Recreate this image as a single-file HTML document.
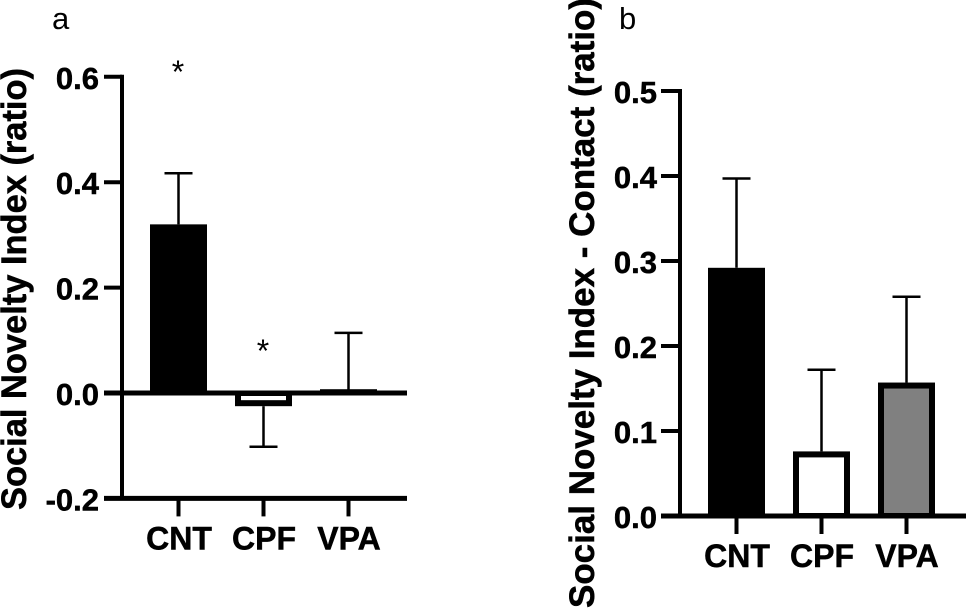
<!DOCTYPE html>
<html lang="en">
<head>
<meta charset="utf-8">
<title>Social Novelty Index bar charts</title>
<style>
html,body{margin:0;padding:0;background:#fff;}
svg{display:block;}
text{font-family:"Liberation Sans",Arial,sans-serif;fill:#000;}
.bold{font-weight:bold;font-size:31px;stroke:#000;stroke-width:0.5px;}
.cat{font-size:32px;}
.title{font-size:35px;}
.panel{font-size:31px;}
.star{font-size:32px;}
</style>
</head>
<body>
<svg id="chart" xmlns="http://www.w3.org/2000/svg" width="966" height="610" viewBox="0 0 966 610">
  <rect width="966" height="610" fill="#fff"/>
  <g id="panel-a"></g>
  <g id="panel-b"></g>
  <text class="panel" x="52" y="29">a</text>
  <text class="panel" x="619" y="29">b</text>
  <text class="bold title" transform="translate(26 510) rotate(-90)" textLength="442" lengthAdjust="spacingAndGlyphs">Social Novelty Index (ratio)</text>
  <text class="bold title" transform="translate(594 608) rotate(-90)" textLength="610" lengthAdjust="spacingAndGlyphs">Social Novelty Index - Contact (ratio)</text>
  <text class="star" x="178" y="83" text-anchor="middle">*</text>
  <text class="star" x="263" y="362" text-anchor="middle">*</text>
</svg>
<script>
const categories = ['CNT', 'CPF', 'VPA'];
const barFills = ['#000000', '#ffffff', '#808080'];
const valuesA = [0.32, -0.025, 0.003];
const errorsA = [0.097, 0.077, 0.111];
const ticksA = [0.6, 0.4, 0.2, 0.0, -0.2];
const valuesB = [0.292, 0.076, 0.157];
const errorsB = [0.105, 0.096, 0.101];
const ticksB = [0.5, 0.4, 0.3, 0.2, 0.1, 0.0];

const NS = 'http://www.w3.org/2000/svg';

function add(parent, tag, attrs, name) {
  const el = document.createElementNS(NS, tag);
  for (const k in attrs) el.setAttribute(k, attrs[k]);
  
  
  parent.appendChild(el);
  return el;
}

function line(parent, x1, y1, x2, y2, w, name) {
  return add(parent, 'line', {x1, y1, x2, y2, stroke: '#000', 'stroke-width': w}, name);
}

function drawPanel(cfg) {
  const g = document.getElementById(cfg.id);
  const y = v => cfg.y0 - v * cfg.pxPerUnit;
  const x = i => cfg.xFirst + i * cfg.xStep;
  const barW = 57, inset = 6, capHalf = 14;

  cfg.ticks.forEach(t => {
    const ty = y(t);
    const last = t === cfg.ticks[cfg.ticks.length - 1];
    const isBase = t === 0 || last;
    line(g, cfg.tickLeft, ty, isBase ? cfg.xEnd : cfg.axisX, ty, isBase ? 5 : 4, isBase ? (last ? 'x-axis-line' : 'zero-line') : 'y-tick');
    const label = add(g, 'text', {x: cfg.labelRight, y: ty + 12, 'text-anchor': 'end', class: 'bold'}, 'y-tick-label');
    label.textContent = t.toFixed(1);
  });

  const axisBottom = y(cfg.ticks[cfg.ticks.length - 1]);
  const axisTop = y(cfg.ticks[0]);
  line(g, cfg.axisX, axisTop - 2, cfg.axisX, axisBottom + 2, 4, 'y-axis-line');

  cfg.values.forEach((v, i) => {
    const name = categories[i].toLowerCase();
    const cx = x(i);
    const tip = v + (v < 0 ? -1 : 1) * cfg.errors[i];
    line(g, cx, y(v), cx, y(tip), 2.5, 'error-bar-' + name);
    line(g, cx - capHalf, y(tip), cx + capHalf, y(tip), 2.5, 'error-cap-' + name);
    let top = Math.min(y(v), cfg.y0), bottom = Math.max(y(v), cfg.y0);
    if (bottom - top < inset) {
      const mid = (top + bottom) / 2;
      top = mid - inset / 2;
      bottom = mid + inset / 2;
    }
    add(g, 'rect', {x: cx - barW / 2, y: top, width: barW, height: bottom - top, fill: '#000'}, 'bar-' + name);
    const innerTop = v >= 0 ? top + inset : top + 3;
    const innerBottom = v >= 0 ? bottom - 3 : bottom - inset;
    if (innerBottom > innerTop) {
      add(g, 'rect', {x: cx - barW / 2 + inset, y: innerTop, width: barW - inset * 2, height: innerBottom - innerTop, fill: barFills[i]}, 'bar-fill-' + name);
    }
  });

  categories.forEach((c, i) => {
    line(g, x(i), axisBottom, x(i), axisBottom + 18, 4, 'x-tick-' + c.toLowerCase());
    const label = add(g, 'text', {x: x(i) + 0.5, y: axisBottom + 51, 'text-anchor': 'middle', class: 'bold cat'}, 'x-tick-label-' + c.toLowerCase());
    label.textContent = c;
  });
}

drawPanel({id: 'panel-a', values: valuesA, errors: errorsA, ticks: ticksA, y0: 393, pxPerUnit: 527,
  xFirst: 178.5, xStep: 85, axisX: 122, tickLeft: 104, xEnd: 407, labelRight: 99});
drawPanel({id: 'panel-b', values: valuesB, errors: errorsB, ticks: ticksB, y0: 516, pxPerUnit: 850,
  xFirst: 736.5, xStep: 85, axisX: 680, tickLeft: 661, xEnd: 966, labelRight: 657});
</script>
</body>
</html>
